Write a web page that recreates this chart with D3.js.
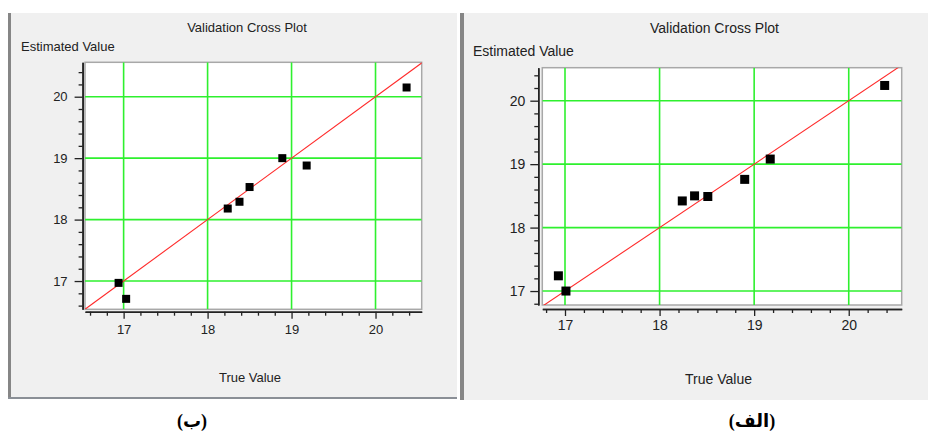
<!DOCTYPE html>
<html>
<head>
<meta charset="utf-8">
<script src="https://cdn.jsdelivr.net/npm/d3@7"></script>
<style>
  body { margin: 0; background: #fff; }
  svg { display: block; }
</style>
</head>
<body>
<div id="chart"></div>
<script>
// values
var majorTicks = [17, 18, 19, 20];
var minorTicks = d3.range(166, 206, 2).map(function (v) { return v / 10; })
  .filter(function (v) { return majorTicks.indexOf(v) < 0; });

// panel (ب) - left
var trueB = [16.94, 17.03, 18.24, 18.38, 18.50, 18.89, 19.18, 20.37];
var estB  = [16.97, 16.71, 18.18, 18.29, 18.53, 19.00, 18.88, 20.15];

// panel (الف) - right
var trueAlef = [16.93, 17.01, 18.24, 18.37, 18.51, 18.90, 19.17, 20.38];
var estAlef  = [17.24, 17.00, 18.42, 18.50, 18.49, 18.76, 19.08, 20.24];

var titleText = "Validation Cross Plot";
var yTitle = "Estimated Value";
var xTitle = "True Value";
var panelNames = ["(ب)", "(الف)"];

var svg = d3.select("#chart")
  .append("svg")
  .attr("width", 928)
  .attr("height", 433);

// layout of each panel
var panels = [
  {
    name: panelNames[0], trueV: trueB, estV: estB,
    box: {x0: 8, x1: 457, y0: 13, y1: 399},
    plot: {l: 85, r: 421.7, t: 62.3, b: 309.3},
    xDom: [16.54, 20.55], yDom: [16.54, 20.56],
    font: 13, size: 8, off: 2.4, pad: 7, xpad: 6,
    titleX: 247, titleY: 31.5, yTitleX: 21, yTitleY: 50.5,
    xTitleX: 250, xTitleY: 381.5, nameX: 192, nameY: 427
  },
  {
    name: panelNames[1], trueV: trueAlef, estV: estAlef,
    box: {x0: 460, x1: 928, y0: 13, y1: 400},
    plot: {l: 542.3, r: 901.7, t: 67.7, b: 305},
    xDom: [16.76, 20.56], yDom: [16.78, 20.52],
    font: 14, size: 9, off: 4, pad: 5, xpad: 4,
    titleX: 714.5, titleY: 33.3, yTitleX: 473, yTitleY: 56,
    xTitleX: 718.5, xTitleY: 384, nameX: 752, nameY: 427
  }
];

panels.forEach(function (p, i) {
  var g = svg.append("g");

  // window background and bevel edges
  g.append("rect")
    .attr("x", p.box.x0).attr("y", p.box.y0)
    .attr("width", p.box.x1 - p.box.x0).attr("height", p.box.y1 - p.box.y0)
    .attr("fill", "#f0f0f0");
  g.append("rect")
    .attr("x", p.box.x0).attr("y", p.box.y0)
    .attr("width", i == 0 ? 3 : 4).attr("height", p.box.y1 - p.box.y0)
    .attr("fill", "#868686");
  if (i == 0) {
    g.append("rect")
      .attr("x", p.box.x0).attr("y", p.box.y1 - 2)
      .attr("width", p.box.x1 - p.box.x0).attr("height", 2)
      .attr("fill", "#8a8f96");
  }

  var x = d3.scaleLinear().domain(p.xDom).range([p.plot.l, p.plot.r]);
  var y = d3.scaleLinear().domain(p.yDom).range([p.plot.b, p.plot.t]);

  // plot area
  g.append("rect")
    .attr("x", p.plot.l).attr("y", p.plot.t)
    .attr("width", p.plot.r - p.plot.l).attr("height", p.plot.b - p.plot.t)
    .attr("fill", "#fff")
    .attr("stroke", "#a8a8a8")
    .attr("stroke-width", 1.5);

  var clipId = "clip" + i;
  svg.append("clipPath").attr("id", clipId)
    .append("rect")
    .attr("x", p.plot.l).attr("y", p.plot.t)
    .attr("width", p.plot.r - p.plot.l).attr("height", p.plot.b - p.plot.t);

  var inner = g.append("g").attr("clip-path", "url(#" + clipId + ")");

  // green grid
  inner.selectAll(".vgrid").data(majorTicks).enter().append("line")
    .attr("x1", function (d) { return x(d); }).attr("x2", function (d) { return x(d); })
    .attr("y1", p.plot.t).attr("y2", p.plot.b)
    .attr("stroke", "#2ef02e").attr("stroke-width", 1.6);
  inner.selectAll(".hgrid").data(majorTicks).enter().append("line")
    .attr("y1", function (d) { return y(d); }).attr("y2", function (d) { return y(d); })
    .attr("x1", p.plot.l).attr("x2", p.plot.r)
    .attr("stroke", "#2ef02e").attr("stroke-width", 1.6);

  // 1:1 line
  var lo = Math.min(p.xDom[0], p.yDom[0]), hi = Math.max(p.xDom[1], p.yDom[1]);
  inner.append("line")
    .attr("x1", x(lo)).attr("y1", y(lo))
    .attr("x2", x(hi)).attr("y2", y(hi))
    .attr("stroke", "#ff2a2a").attr("stroke-width", 1.1);

  // points
  g.selectAll(".pt").data(p.trueV).enter().append("rect")
    .attr("x", function (d) { return x(d) - p.size / 2; })
    .attr("y", function (d, j) { return y(p.estV[j]) - p.size / 2; })
    .attr("width", p.size).attr("height", p.size)
    .attr("fill", "#000");

  // axes: minor then major ticks
  var xAxisY = p.plot.b + p.off, yAxisX = p.plot.l - p.off;
  var font = "'Liberation Sans', Arial, sans-serif";
  var fmt = d3.format("d");

  g.append("g")
    .attr("transform", "translate(" + yAxisX + ",0)")
    .call(d3.axisLeft(y).tickValues(minorTicks.filter(function (v) { return v > p.yDom[0] && v < p.yDom[1]; }))
      .tickSize(4).tickSizeOuter(0).tickFormat(""));
  g.append("g")
    .attr("class", "y axis")
    .attr("transform", "translate(" + yAxisX + ",0)")
    .call(d3.axisLeft(y).tickValues(majorTicks).tickFormat(fmt)
      .tickSize(8).tickSizeOuter(0).tickPadding(p.pad));

  g.append("g")
    .attr("transform", "translate(0," + xAxisY + ")")
    .call(d3.axisBottom(x).tickValues(minorTicks.filter(function (v) { return v > p.xDom[0] && v < p.xDom[1]; }))
      .tickSize(4).tickSizeOuter(0).tickFormat(""));
  g.append("g")
    .attr("class", "x axis")
    .attr("transform", "translate(0," + xAxisY + ")")
    .call(d3.axisBottom(x).tickValues(majorTicks).tickFormat(fmt)
      .tickSize(7).tickSizeOuter(0).tickPadding(p.xpad));

  g.selectAll(".domain").attr("stroke", "#222").attr("stroke-width", 1.5);
  g.selectAll(".tick line").attr("stroke", "#222").attr("stroke-width", 1.3);
  g.selectAll(".tick text")
    .attr("font-family", font).attr("font-size", p.font).attr("fill", "#222");

  // titles
  g.append("text")
    .attr("x", p.titleX).attr("y", p.titleY)
    .attr("text-anchor", "middle")
    .attr("font-family", font).attr("font-size", p.font).attr("fill", "#222")
    .text(titleText);
  g.append("text")
    .attr("x", p.yTitleX).attr("y", p.yTitleY)
    .attr("font-family", font).attr("font-size", p.font).attr("fill", "#222")
    .text(yTitle);
  g.append("text")
    .attr("x", p.xTitleX).attr("y", p.xTitleY)
    .attr("text-anchor", "middle")
    .attr("font-family", font).attr("font-size", p.font).attr("fill", "#222")
    .text(xTitle);

  // caption under the panel
  svg.append("text")
    .attr("x", p.nameX).attr("y", p.nameY)
    .attr("text-anchor", "middle")
    .attr("font-family", "'Liberation Serif', 'DejaVu Sans', serif")
    .attr("font-weight", "bold").attr("font-size", 18)
    .attr("fill", "#000")
    .text(p.name);
});
</script>
</body>
</html>
